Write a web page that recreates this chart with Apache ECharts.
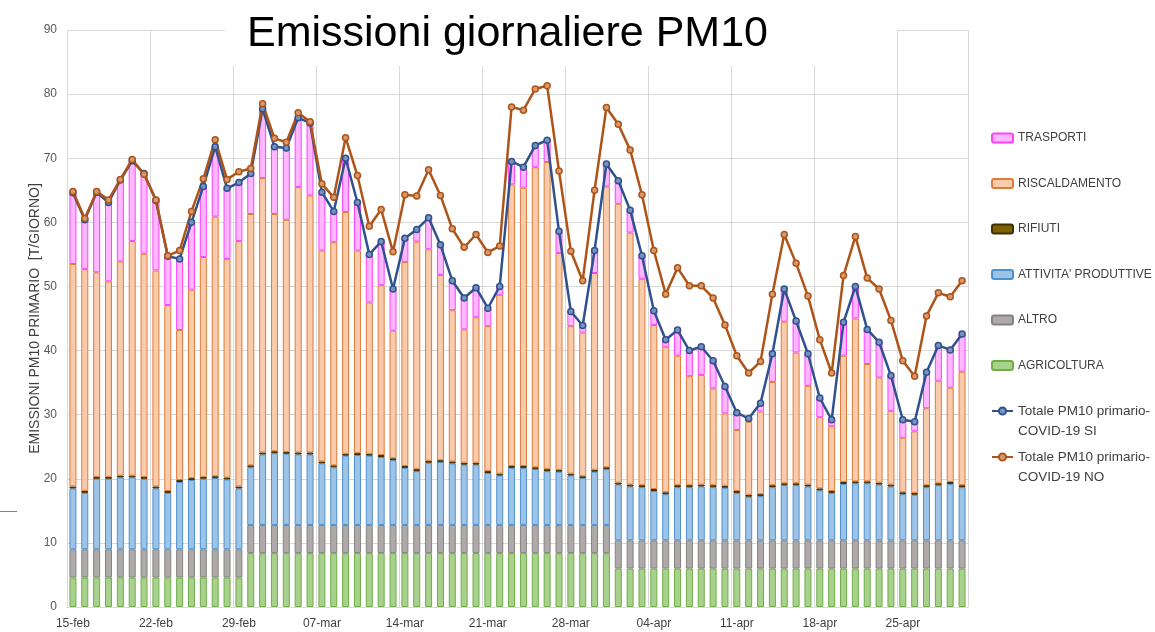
<!DOCTYPE html>
<html>
<head>
<meta charset="utf-8">
<title>Emissioni giornaliere PM10</title>
<script src="https://cdn.jsdelivr.net/npm/echarts@6/dist/echarts.min.js"></script>
<style>
html,body{margin:0;padding:0;background:#fff;}
#chart{width:1155px;height:632px;}
</style>
</head>
<body>
<div id="chart"></div>
<script>
// giorni dal 15 febbraio al 30 aprile 2020
var giorni = [
	'15-feb','16-feb','17-feb','18-feb','19-feb','20-feb','21-feb','22-feb','23-feb','24-feb','25-feb','26-feb','27-feb','28-feb','29-feb',
	'01-mar','02-mar','03-mar','04-mar','05-mar','06-mar','07-mar','08-mar','09-mar','10-mar','11-mar','12-mar','13-mar','14-mar','15-mar','16-mar',
	'17-mar','18-mar','19-mar','20-mar','21-mar','22-mar','23-mar','24-mar','25-mar','26-mar','27-mar','28-mar','29-mar','30-mar','31-mar',
	'01-apr','02-apr','03-apr','04-apr','05-apr','06-apr','07-apr','08-apr','09-apr','10-apr','11-apr','12-apr','13-apr','14-apr','15-apr',
	'16-apr','17-apr','18-apr','19-apr','20-apr','21-apr','22-apr','23-apr','24-apr','25-apr','26-apr','27-apr','28-apr','29-apr','30-apr'
];

var agricoltura = [
	4.6,4.6,4.6,4.6,4.6,4.6,4.6,4.6,4.6,4.6,4.6,4.6,4.6,4.6,4.6,
	8.4,8.4,8.4,8.4,8.4,8.4,8.4,8.4,8.4,8.4,8.4,8.4,8.4,8.4,8.4,8.4,8.4,8.4,8.4,8.4,8.4,8.4,8.4,8.4,8.4,8.4,8.4,8.4,8.4,8.4,8.4,
	6.0,6.0,6.0,6.0,6.0,6.0,6.0,6.0,6.0,6.0,6.0,6.0,6.0,6.0,6.0,6.0,6.0,6.0,6.0,6.0,6.0,6.0,6.0,6.0,6.0,6.0,6.0,6.0,6.0,6.0
];
var altro = [
	4.4,4.4,4.4,4.4,4.4,4.4,4.4,4.4,4.4,4.4,4.4,4.4,4.4,4.4,4.4,
	4.4,4.4,4.4,4.4,4.4,4.4,4.4,4.4,4.4,4.4,4.4,4.4,4.4,4.4,4.4,4.4,4.4,4.4,4.4,4.4,4.4,4.4,4.4,4.4,4.4,4.4,4.4,4.4,4.4,4.4,4.4,
	4.4,4.4,4.4,4.4,4.4,4.4,4.4,4.4,4.4,4.4,4.4,4.4,4.4,4.4,4.4,4.4,4.4,4.4,4.4,4.4,4.4,4.4,4.4,4.4,4.4,4.4,4.4,4.4,4.4,4.4
];
var attivita = [
	9.5,8.8,11.0,11.0,11.2,11.2,11.0,9.5,8.8,10.5,10.8,11.0,11.1,10.9,9.5,
	9.0,11.0,11.2,11.1,11.0,11.0,9.6,9.0,10.8,10.9,10.8,10.6,10.1,8.9,8.4,9.7,9.8,9.6,9.4,9.4,8.1,7.7,8.9,8.9,8.7,8.4,8.3,7.7,7.3,8.3,8.7,
	8.7,8.4,8.3,7.7,7.2,8.3,8.3,8.4,8.3,8.2,7.4,6.8,6.9,8.3,8.6,8.6,8.4,7.8,7.4,8.8,8.9,8.9,8.7,8.4,7.2,7.1,8.3,8.6,8.8,8.3
];
var rifiuti = [
	0.3,0.3,0.3,0.3,0.3,0.3,0.3,0.3,0.3,0.3,0.3,0.3,0.3,0.3,0.3,
	0.3,0.3,0.3,0.3,0.3,0.3,0.3,0.3,0.3,0.3,0.3,0.3,0.3,0.3,0.3,0.3,0.3,0.3,0.3,0.3,0.3,0.3,0.3,0.3,0.3,0.3,0.3,0.3,0.3,0.3,0.3,
	0.3,0.3,0.3,0.3,0.3,0.3,0.3,0.3,0.3,0.3,0.3,0.3,0.3,0.3,0.3,0.3,0.3,0.3,0.3,0.3,0.3,0.3,0.3,0.3,0.3,0.3,0.3,0.3,0.3,0.3
];
var riscaldamento = [
	34.7,34.6,31.9,30.5,33.4,36.6,34.8,33.7,29.0,23.4,29.4,34.3,40.5,34.1,38.3,
	39.2,42.8,37.0,36.2,41.4,40.1,32.9,34.8,37.7,31.6,23.6,26.5,19.9,31.8,35.5,33.0,28.9,23.6,20.8,22.7,22.6,27.9,43.9,43.4,46.8,47.9,33.8,23.0,22.4,30.7,43.8,
	43.5,39.3,32.2,25.6,22.7,20.2,17.0,17.1,15.1,11.3,9.5,11.4,12.9,16.1,25.2,20.4,15.4,11.1,10.1,19.7,25.4,18.3,16.4,11.5,8.5,9.6,12.0,16.0,14.7,17.7
];
var trasporti = [
	11.1,7.7,12.5,12.3,12.7,12.5,12.5,10.9,7.6,11.1,10.5,11.0,10.9,11.0,9.1,
	6.3,10.8,10.5,11.2,10.8,11.3,9.1,4.8,8.4,7.5,7.5,6.8,6.5,3.7,1.9,4.9,4.7,4.6,4.9,4.6,2.8,1.3,3.6,3.2,3.4,3.4,3.4,2.3,1.1,3.5,3.5,
	3.6,3.5,3.6,2.2,1.1,4.0,4.0,4.4,4.3,4.2,2.7,0.5,1.3,4.4,5.1,4.9,5.0,3.0,1.0,5.2,5.0,5.4,5.5,5.5,2.8,1.5,5.6,5.5,5.9,5.9
];
var totaleCovidSi = [
	64.6,60.4,64.7,63.1,66.6,69.6,67.6,63.4,54.7,54.3,60.0,65.6,71.8,65.3,66.2,
	67.6,77.7,71.8,71.6,76.3,75.5,64.7,61.7,70.0,63.1,55.0,57.0,49.6,57.5,58.9,60.7,56.5,50.9,48.2,49.8,46.6,50.0,69.5,68.6,72.0,72.8,58.6,46.1,43.9,55.6,69.1,
	66.5,61.9,54.8,46.2,41.7,43.2,40.0,40.6,38.4,34.4,30.3,29.4,31.8,39.5,49.6,44.6,39.5,32.6,29.2,44.4,50.0,43.3,41.3,36.1,29.2,28.9,36.6,40.8,40.1,42.6
];
var totaleCovidNo = [
	64.8,60.6,64.8,63.5,66.7,69.8,67.5,63.5,54.8,55.6,61.7,66.8,72.9,66.7,67.9,
	68.4,78.5,73.1,72.5,77.1,75.7,66.0,63.9,73.2,67.3,59.4,62.0,55.4,64.3,64.1,68.2,64.2,59.0,56.1,58.1,55.3,56.3,78.0,77.5,80.8,81.3,68.0,55.5,50.9,65.0,77.9,
	75.3,71.3,64.3,55.6,48.8,52.9,50.1,50.1,48.2,44.0,39.2,36.5,38.3,48.8,58.1,53.6,48.5,41.7,36.5,51.7,57.8,51.3,49.6,44.7,38.4,36.0,45.4,49.0,48.4,50.9
];

var NOME_SI = 'Totale PM10 primario-COVID-19 SI';
var NOME_NO = 'Totale PM10 primario-COVID-19 NO';

var chart = echarts.init(document.getElementById('chart'));

function barra(nome, dati, fill, bordo) {
	return {
		name: nome, type: 'bar', stack: 'pm10', data: dati, barWidth: 7,
		itemStyle: {color: fill, borderColor: bordo, borderWidth: 1},
		emphasis: {disabled: true}
	};
}

function linea(nome, dati, colore, riempimento) {
	return {
		name: nome, type: 'line', data: dati,
		symbol: 'circle', symbolSize: 6,
		lineStyle: {color: colore, width: 2.5},
		itemStyle: {color: riempimento, borderColor: colore, borderWidth: 1.5},
		emphasis: {disabled: true}
	};
}

// la riga vuota iniziale tiene la prima riga del testo all'altezza dell'icona
function legendaLinea(nome, top) {
	return {
		data: [nome], orient: 'vertical', left: 991, top: top, padding: 0,
		itemWidth: 21, itemHeight: 9, selectedMode: false,
		formatter: function(n) { return '\n' + n.replace('-COVID', '-\nCOVID'); },
		textStyle: {fontSize: 13.5, color: '#404040', lineHeight: 20}
	};
}

chart.setOption({
	animation: false,
	textStyle: {fontFamily: 'Liberation Sans, Arial, sans-serif'},
	title: {
		text: 'Emissioni giornaliere PM10', left: 242, top: 8, z: 6,
		textStyle: {fontSize: 43, fontWeight: 'normal', color: '#000'}
	},
	// riquadro bianco del titolo e segmento azzurro a sinistra
	graphic: [
		{type: 'rect', z: 1, shape: {x: 225, y: 0, width: 672, height: 66}, style: {fill: '#fff'}},
		{type: 'line', z: 1, shape: {x1: 0, y1: 511.5, x2: 17, y2: 511.5}, style: {stroke: '#5b8bd0', lineWidth: 1}}
	],
	grid: {left: 67, right: 187, top: 30, bottom: 25},
	legend: [
		{
			data: ['TRASPORTI', 'RISCALDAMENTO', 'RIFIUTI', "ATTIVITA' PRODUTTIVE", 'ALTRO', 'AGRICOLTURA'],
			orient: 'vertical', left: 991, top: 128, padding: 0, itemGap: 25.5,
			itemWidth: 21, itemHeight: 9, selectedMode: false,
			textStyle: {fontSize: 12, color: '#404040', lineHeight: 20}
		},
		legendaLinea(NOME_SI, 381),
		legendaLinea(NOME_NO, 427)
	],
	xAxis: {
		type: 'category', data: giorni,
		axisLine: {lineStyle: {color: '#d9d9d9'}},
		axisTick: {show: false},
		axisLabel: {interval: 6, color: '#404040', fontSize: 12, margin: 11},
		splitLine: {show: true, interval: 6, lineStyle: {color: '#d9d9d9'}}
	},
	yAxis: {
		type: 'value', min: 0, max: 90, interval: 10,
		name: 'EMISSIONI PM10 PRIMARIO  [T/GIORNO]',
		nameLocation: 'middle', nameGap: 25, nameMoveOverlap: false,
		nameTextStyle: {fontSize: 14, color: '#404040'},
		axisLabel: {color: '#595959', fontSize: 12, margin: 10},
		splitLine: {lineStyle: {color: '#d9d9d9'}}
	},
	series: [
		barra('AGRICOLTURA', agricoltura, '#a9d18e', '#70ad47'),
		barra('ALTRO', altro, '#aeaaaa', '#868282'),
		barra("ATTIVITA' PRODUTTIVE", attivita, '#9dc3e6', '#4f90cf'),
		barra('RIFIUTI', rifiuti, '#7f6000', '#3f3000'),
		barra('RISCALDAMENTO', riscaldamento, '#f8cbad', '#e07b39'),
		barra('TRASPORTI', trasporti, '#ffb8ff', '#ff40ff'),
		linea(NOME_SI, totaleCovidSi, '#2f528f', '#7a92bd'),
		linea(NOME_NO, totaleCovidNo, '#ae5418', '#d69a70')
	]
});
</script>
</body>
</html>
